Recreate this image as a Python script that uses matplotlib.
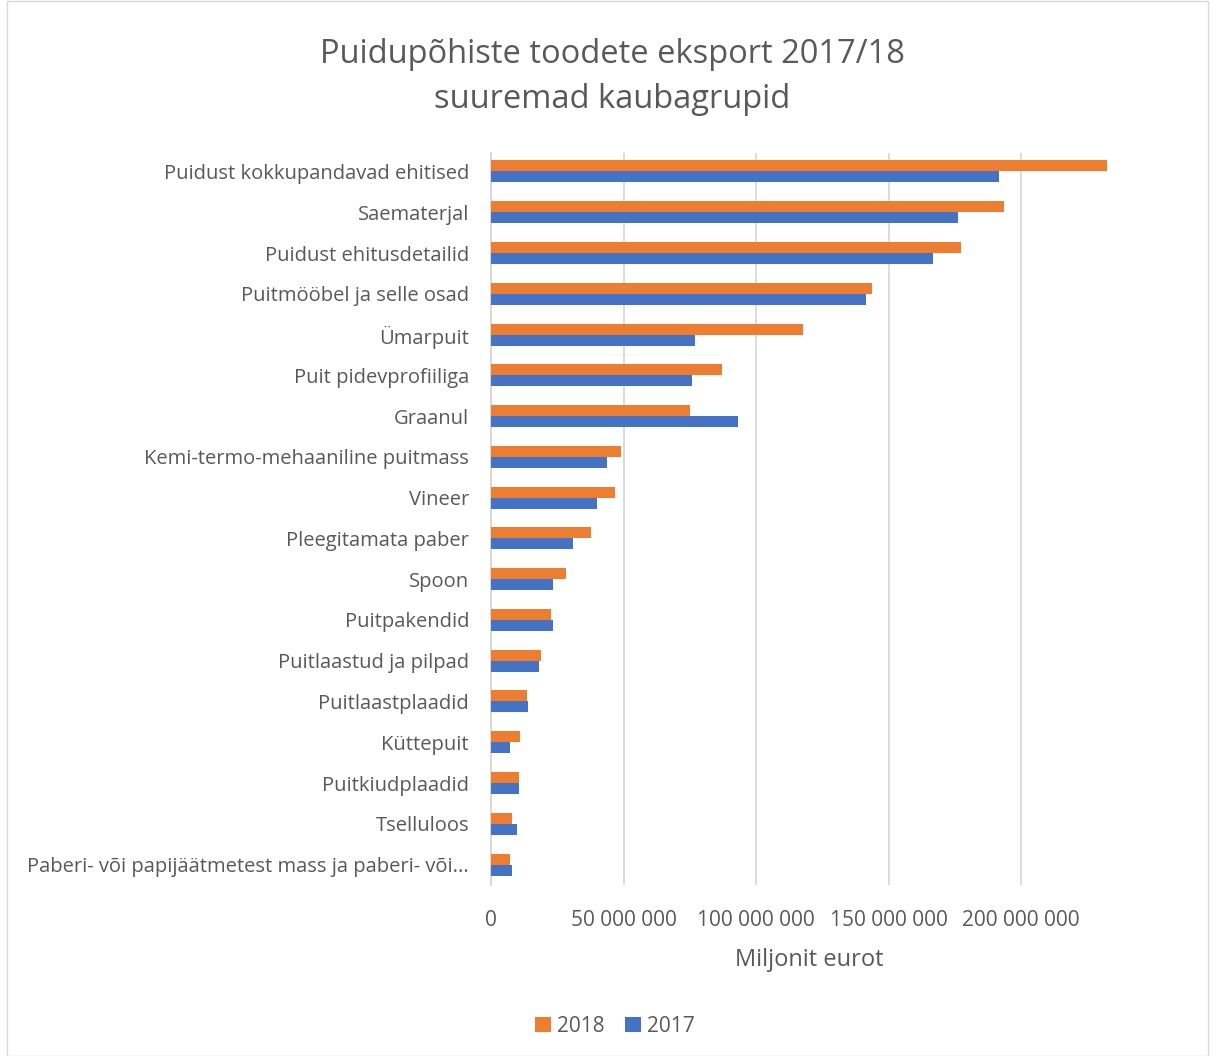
import matplotlib.pyplot as plt
import numpy as np

plt.rcParams['font.family'] = ['Open Sans', 'DejaVu Sans']

# kaubagrupid (ülevalt alla)
kategooriad = [
    "Puidust kokkupandavad ehitised",
    "Saematerjal",
    "Puidust ehitusdetailid",
    "Puitmööbel ja selle osad",
    "Ümarpuit",
    "Puit pidevprofiiliga",
    "Graanul",
    "Kemi-termo-mehaaniline puitmass",
    "Vineer",
    "Pleegitamata paber",
    "Spoon",
    "Puitpakendid",
    "Puitlaastud ja pilpad",
    "Puitlaastplaadid",
    "Küttepuit",
    "Puitkiudplaadid",
    "Tselluloos",
    "Paberi- või papijäätmetest mass ja paberi- või...",
]

# eurodes
eksport_2018 = [232.5e6, 193.6e6, 177.4e6, 143.8e6, 117.7e6, 87.2e6, 75.1e6, 49.0e6, 46.8e6,
                37.7e6, 28.3e6, 22.6e6, 18.9e6, 13.6e6, 10.9e6, 10.4e6, 7.8e6, 7.0e6]
eksport_2017 = [191.7e6, 176.2e6, 166.8e6, 141.5e6, 77.0e6, 75.8e6, 93.2e6, 43.8e6, 40.0e6,
                30.9e6, 23.4e6, 23.4e6, 18.1e6, 13.9e6, 7.2e6, 10.4e6, 9.6e6, 7.9e6]

tekst = '#595959'
oranz = '#ED7D31'
sinine = '#4472C4'

fig = plt.figure(figsize=(12.13, 10.56), dpi=100)
ax = fig.add_axes([0.405, 0.162, 0.524, 0.693])

y = np.arange(len(kategooriad))
h = 0.27
ax.barh(y - h / 2, eksport_2018, height=h, color=oranz, label='2018', zorder=3)
ax.barh(y + h / 2, eksport_2017, height=h, color=sinine, label='2017', zorder=3)

ax.set_ylim(len(kategooriad) - 0.5, -0.45)
ax.set_xlim(0, 240e6)
ax.set_yticks(y)
ax.set_yticklabels(kategooriad, fontsize=14.5, color=tekst)
xt = [0, 50e6, 100e6, 150e6, 200e6]
ax.set_xticks(xt)
ax.set_xticklabels(['0' if v == 0 else f"{int(v):,}".replace(',', ' ') for v in xt],
                   fontsize=15, color=tekst)
ax.tick_params(length=0)
ax.tick_params(axis='y', pad=16)
ax.tick_params(axis='x', pad=18)

ax.grid(axis='x', color='#D9D9D9', linewidth=1.3, zorder=0)
for s in ['top', 'right', 'bottom']:
    ax.spines[s].set_visible(False)
ax.spines['left'].set_color('#D9D9D9')
ax.spines['left'].set_linewidth(1.5)

ax.set_xlabel('Miljonit eurot', fontsize=17, color=tekst, labelpad=12)

fig.text(0.505, 0.948, 'Puidupõhiste toodete eksport 2017/18', ha='center', va='center',
         fontsize=23.5, color=tekst)
fig.text(0.505, 0.906, 'suuremad kaubagrupid', ha='center', va='center',
         fontsize=23.5, color=tekst)

fig.legend(loc='center', bbox_to_anchor=(0.507, 0.028), ncol=2, frameon=False,
           fontsize=15, labelcolor=tekst, handlelength=0.75, handleheight=0.75,
           handletextpad=0.3, columnspacing=1.0)

# raam ümber joonise
fig.patches.append(plt.Rectangle((0.006, 0.0), 0.99, 0.999, transform=fig.transFigure,
                                 fill=False, edgecolor='#D9D9D9', linewidth=1))

fig.savefig('out.png', dpi=100)
